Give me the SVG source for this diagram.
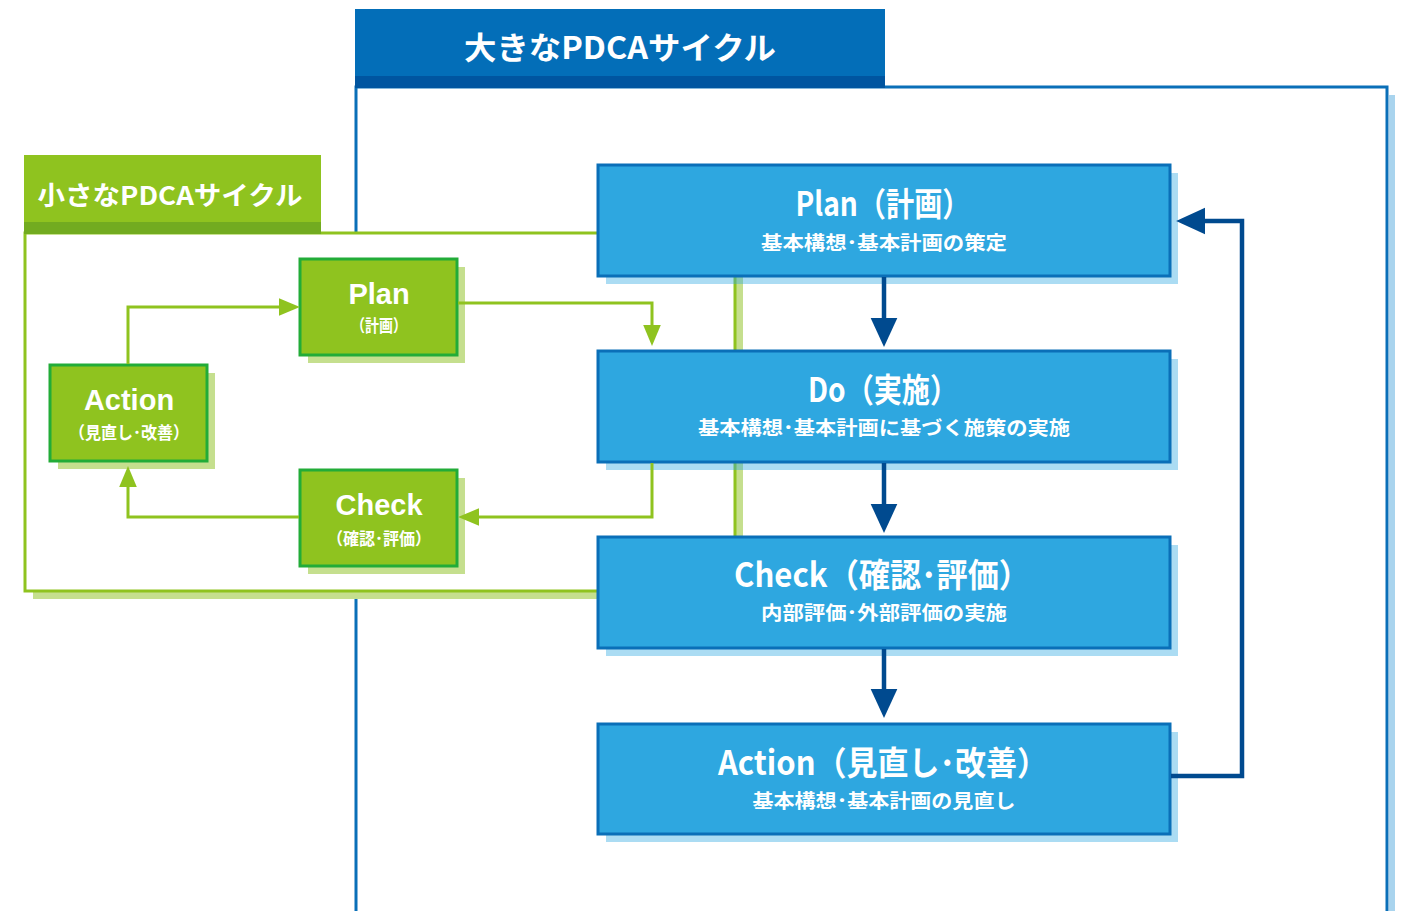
<svg xmlns="http://www.w3.org/2000/svg" width="1404" height="911" viewBox="0 0 1404 911">
<style>
.t{font-family:"Liberation Sans","Noto Sans CJK JP",sans-serif;font-weight:bold;fill:#fff;text-anchor:middle}
.j{font-family:"Noto Sans CJK JP","Liberation Sans",sans-serif;font-weight:bold;fill:#fff;text-anchor:middle}
.bbox{fill:#2ea7e0;stroke:#0a6fb8;stroke-width:3}
.bsh{fill:#2ea7e0;fill-opacity:0.4}
.gbox{fill:#8fc31f;stroke:#22ac38;stroke-width:3}
.gsh{fill:#c5df8e}
.bl{fill:none;stroke:#004a8f;stroke-width:4.5}
.gl{fill:none;stroke:#8fc31f;stroke-width:3}
</style>
<defs>
<marker id="ab" markerUnits="userSpaceOnUse" markerWidth="30" markerHeight="30" viewBox="0 -13 27 26" refX="0" refY="0" orient="auto" overflow="visible"><path d="M0,-12 L26,0 L0,12 Z" fill="#004a8f"/></marker>
<marker id="ag" markerUnits="userSpaceOnUse" markerWidth="22" markerHeight="20" viewBox="0 -9 20 18" refX="0" refY="0" orient="auto" overflow="visible"><path d="M0,-8 L19,0 L0,8 Z" fill="#8fc31f"/></marker>
</defs>

<g id="big-frame">
<rect x="1389" y="95" width="6" height="816" fill="#a9d4ee"/>
<path d="M356,911 V87 H1387 V911" fill="none" stroke="#0a6fb8" stroke-width="3"/>
<rect x="355" y="9" width="530" height="79" fill="#036eb8"/>
<rect x="355" y="76" width="530" height="12" fill="#0055a0"/>
<text class="j" x="620" y="59" font-size="31" textLength="312" lengthAdjust="spacingAndGlyphs">大きなPDCAサイクル</text>
</g>

<g id="small-frame">
<rect x="33" y="241" width="710" height="358" fill="#c5df8e"/>
<rect x="25" y="233" width="710" height="358" fill="#fff" stroke="#8fc31f" stroke-width="3"/>
<rect x="24" y="155" width="297" height="79" fill="#8fc31f"/>
<rect x="24" y="222" width="297" height="12" fill="#72ab20"/>
<text class="j" x="170" y="205" font-size="26" textLength="265" lengthAdjust="spacingAndGlyphs">小さなPDCAサイクル</text>
</g>

<g id="big-plan">
<rect class="bsh" x="606" y="173" width="572" height="111"/>
<rect class="bbox" x="598" y="165" width="572" height="111"/>
<text class="j" x="883" y="216" font-size="33" textLength="175" lengthAdjust="spacingAndGlyphs">Plan（計画）</text>
<text class="j" x="884" y="250" font-size="19" textLength="246" lengthAdjust="spacingAndGlyphs">基本構想･基本計画の策定</text>
</g>
<g id="big-do">
<rect class="bsh" x="606" y="359" width="572" height="111"/>
<rect class="bbox" x="598" y="351" width="572" height="111"/>
<text class="j" x="883" y="402" font-size="33" textLength="150" lengthAdjust="spacingAndGlyphs">Do（実施）</text>
<text class="j" x="884" y="435" font-size="19" textLength="372" lengthAdjust="spacingAndGlyphs">基本構想･基本計画に基づく施策の実施</text>
</g>
<g id="big-check">
<rect class="bsh" x="606" y="545" width="572" height="111"/>
<rect class="bbox" x="598" y="537" width="572" height="111"/>
<text class="j" x="882" y="587" font-size="33" textLength="296" lengthAdjust="spacingAndGlyphs">Check（確認･評価）</text>
<text class="j" x="884" y="620" font-size="19" textLength="246" lengthAdjust="spacingAndGlyphs">内部評価･外部評価の実施</text>
</g>
<g id="big-action">
<rect class="bsh" x="606" y="732" width="572" height="110"/>
<rect class="bbox" x="598" y="724" width="572" height="110"/>
<text class="j" x="883" y="775" font-size="33" textLength="330" lengthAdjust="spacingAndGlyphs">Action（見直し･改善）</text>
<text class="j" x="884" y="808" font-size="19" textLength="263" lengthAdjust="spacingAndGlyphs">基本構想･基本計画の見直し</text>
</g>

<g id="small-plan">
<rect class="gsh" x="308" y="267" width="157" height="96"/>
<rect class="gbox" x="300" y="259" width="157" height="96"/>
<text class="t" x="379" y="304" font-size="29">Plan</text>
<text class="j" x="379" y="332" font-size="17" textLength="56" lengthAdjust="spacingAndGlyphs">（計画）</text>
</g>
<g id="small-action">
<rect class="gsh" x="58" y="373" width="157" height="96"/>
<rect class="gbox" x="50" y="365" width="157" height="96"/>
<text class="t" x="129" y="410" font-size="29">Action</text>
<text class="j" x="129" y="439" font-size="17" textLength="120" lengthAdjust="spacingAndGlyphs">（見直し･改善）</text>
</g>
<g id="small-check">
<rect class="gsh" x="308" y="478" width="157" height="96"/>
<rect class="gbox" x="300" y="470" width="157" height="96"/>
<text class="t" x="379" y="515" font-size="29">Check</text>
<text class="j" x="379" y="545" font-size="17" textLength="104" lengthAdjust="spacingAndGlyphs">（確認･評価）</text>
</g>

<g id="connectors">
<path class="bl" d="M884,277 V318" marker-end="url(#ab)"/>
<path class="bl" d="M884,463 V504" marker-end="url(#ab)"/>
<path class="bl" d="M884,649 V689" marker-end="url(#ab)"/>
<path class="bl" d="M1171,776 H1242 V221 H1205" marker-end="url(#ab)"/>
<path class="gl" d="M128,364 V307 H279" marker-end="url(#ag)"/>
<path class="gl" d="M458,303 H652 V325" marker-end="url(#ag)"/>
<path class="gl" d="M652,463 V517 H479" marker-end="url(#ag)"/>
<path class="gl" d="M299,517 H128 V487" marker-end="url(#ag)"/>
</g>
</svg>
